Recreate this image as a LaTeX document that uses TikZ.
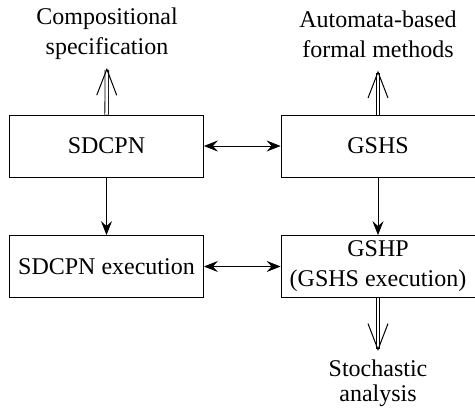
\documentclass[tikz,border=0pt]{standalone}
\usepackage{fontspec}
\setmainfont{Liberation Serif}
\usetikzlibrary{arrows.meta}

\begin{document}
\begin{tikzpicture}
  [x=0.5pt,y=-0.5pt,
   every node/.style={font=\fontsize{12}{15}\selectfont},
   blk/.style={draw,minimum width=97pt,minimum height=31pt,inner sep=2pt,align=center},
   lbl/.style={align=center,inner sep=0pt,outer sep=4pt},
   sarr/.style={{Stealth[length=7pt,width=5.5pt,inset=2.5pt]}-{Stealth[length=7pt,width=5.5pt,inset=2.5pt]}},
   varr/.style={-{Stealth[length=7pt,width=5.5pt,inset=2.5pt]}},
   darr/.style={double,double distance=1.4pt,-{Straight Barb[length=13pt,width=10pt,line width=0.5pt]}}]
  \useasboundingbox (0,0) rectangle (475,407);
  \node[blk] (sdcpn) at (106.5,146) {SDCPN};
  \node[blk] (gshs) at (378,146) {GSHS};
  \node[blk] (sdcpnx) at (106.5,266.5) {SDCPN execution};
  \node[blk] (gshp) at (378,266.5) {GSHP\\(GSHS execution)};
  \node[lbl] (comp) at (107,34) {Compositional\\specification};
  \node[lbl,outer sep=6.6pt] (auto) at (378,34) {Automata-based\\formal methods};
  \node[lbl,outer sep=4.3pt,font=\fontsize{12}{12.5}\selectfont] (stoch) at (378,383) {Stochastic\\analysis};
  % links between the models
  \draw[sarr] (sdcpn) -- (gshs);
  \draw[sarr] (sdcpnx) -- (gshp);
  \draw[varr] (sdcpn) -- (sdcpnx);
  \draw[varr] (gshs) -- (gshp);
  % what each side is good for
  \draw[darr] (sdcpn) -- (comp);
  \draw[darr] (gshs) -- (auto);
  \draw[darr] (gshp) -- (stoch);
\end{tikzpicture}
\end{document}
